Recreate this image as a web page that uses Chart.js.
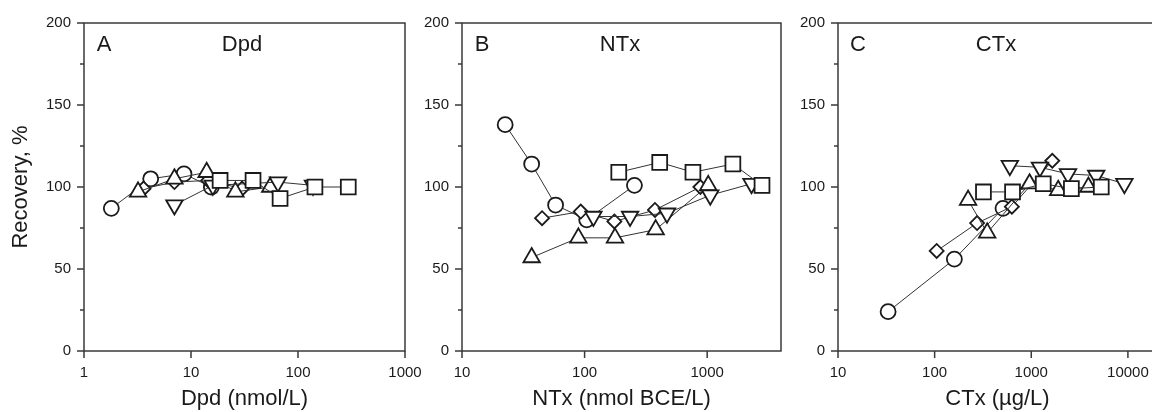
<!DOCTYPE html>
<html><head><meta charset="utf-8">
<script src="https://cdn.jsdelivr.net/npm/chart.js@4"></script>
<style>
html,body{margin:0;padding:0;width:1152px;height:412px;overflow:hidden;background:#fff;}
canvas{position:absolute;top:0;}
</style></head><body>
<canvas id="cA" width="445" height="412" style="left:0px"></canvas>
<canvas id="cB" width="411" height="412" style="left:410px"></canvas>
<canvas id="cC" width="411" height="412" style="left:786px"></canvas>
<script>
// ---------- Data ----------
// Panel A: Dpd (nmol/L)
const dpdCircleX = [1.8, 4.2, 8.6, 15.5];
const dpdCircleY = [87, 105, 108, 100];
const dpdDiamondX = [3.6, 7, 14.5, 30];
const dpdDiamondY = [99, 103, 104, 99];
const dpdTriX = [3.2, 7, 14, 26, 55];
const dpdTriY = [97, 105, 109, 97, 100];
const dpdDownX = [7, 16, 65, 138];
const dpdDownY = [89, 101, 103, 101];
const dpdSquareX = [18.7, 38, 68, 144, 295];
const dpdSquareY = [104, 104, 93, 100, 100];

// Panel B: NTx (nmol BCE/L)
const ntxCircleX = [22.5, 37, 58, 104, 255];
const ntxCircleY = [138, 114, 89, 80, 101];
const ntxDiamondX = [45, 93, 175, 375, 880];
const ntxDiamondY = [81, 85, 79, 86, 100];
const ntxTriX = [37, 89, 177, 380, 1020];
const ntxTriY = [57, 69, 69, 74, 101];
const ntxDownX = [118, 235, 470, 1060, 2300];
const ntxDownY = [82, 82, 84, 95, 102];
const ntxSquareX = [190, 410, 765, 1620, 2800];
const ntxSquareY = [109, 115, 109, 114, 101];

// Panel C: CTx (µg/L)
const ctxCircleX = [33, 160, 510];
const ctxCircleY = [24, 56, 87];
const ctxDiamondX = [105, 275, 630, 1650];
const ctxDiamondY = [61, 78, 88, 116];
const ctxTriX = [222, 350, 960, 1900, 3900];
const ctxTriY = [92, 72, 102, 98, 100];
const ctxDownX = [600, 1230, 2400, 4700, 9200];
const ctxDownY = [113, 112, 108, 107, 102];
const ctxSquareX = [320, 640, 1330, 2600, 5300];
const ctxSquareY = [97, 97, 102, 99, 100];

// Axis ticks
const yMajorTicks = [0, 50, 100, 150, 200];
const yMinorTicks = [25, 75, 125, 175];
const xTicksA = [1, 10, 100, 1000];
const xTicksB = [10, 100, 1000];
const xTicksC = [10, 100, 1000, 10000];

// Labels
const yTitle = 'Recovery, %';
const panelLetters = ['A', 'B', 'C'];
const panelNames = ['Dpd', 'NTx', 'CTx'];
const xTitles = ['Dpd (nmol/L)', 'NTx (nmol BCE/L)', 'CTx (\u00b5g/L)'];

// ---------- Styling / build ----------
const FONT = '"Liberation Sans", Arial, Helvetica, sans-serif';
const INK = '#1a1a1a';

function pts(xs, ys) { return xs.map((x, i) => ({x: x, y: ys[i]})); }

const markerStyles = {
  square:  {pointStyle: 'rect', radius: 10.5, rotation: 0},
  down:    {pointStyle: 'triangle', radius: 9.5, rotation: 180},
  tri:     {pointStyle: 'triangle', radius: 9.5, rotation: 0},
  diamond: {pointStyle: 'rectRot', radius: 7, rotation: 0},
  circle:  {pointStyle: 'circle', radius: 7.5, rotation: 0}
};

function ds(kind, xs, ys) {
  const m = markerStyles[kind];
  return {
    data: pts(xs, ys),
    showLine: true,
    borderColor: '#333',
    borderWidth: 1,
    pointStyle: m.pointStyle,
    pointRadius: m.radius,
    pointRotation: m.rotation,
    pointBorderColor: INK,
    pointBorderWidth: 1.8,
    pointBackgroundColor: '#fff',
    pointHoverRadius: m.radius,
    clip: false
  };
}

const framePlugin = {
  id: 'frame',
  beforeDatasetsDraw(chart, args, opts) {
    const {ctx, chartArea: a, scales} = chart;
    const x = scales.x, y = scales.y;
    ctx.save();
    ctx.strokeStyle = '#3a3a3a';
    ctx.lineWidth = 1.5;
    ctx.strokeRect(a.left, a.top, a.right - a.left, a.bottom - a.top);
    ctx.beginPath();
    yMajorTicks.forEach(v => { const p = y.getPixelForValue(v); ctx.moveTo(a.left - 7, p); ctx.lineTo(a.left, p); });
    yMinorTicks.forEach(v => { const p = y.getPixelForValue(v); ctx.moveTo(a.left - 4, p); ctx.lineTo(a.left, p); });
    x.ticks.forEach(t => { const p = x.getPixelForValue(t.value); ctx.moveTo(p, a.bottom); ctx.lineTo(p, a.bottom + 7); });
    ctx.stroke();
    ctx.fillStyle = INK;
    ctx.font = '22px ' + FONT;
    ctx.textBaseline = 'middle';
    ctx.textAlign = 'center';
    ctx.fillText(opts.letter, a.left + 20, a.top + 22);
    ctx.fillText(opts.name, a.left + 158, a.top + 22);
    ctx.restore();
  }
};

function makeChart(id, idx, datasets, xMin, xMax, xTicks, yAxisWidth, showYTitle) {
  return new Chart(document.getElementById(id), {
    type: 'scatter',
    data: {datasets: datasets},
    plugins: [framePlugin],
    options: {
      responsive: false,
      devicePixelRatio: 1,
      animation: false,
      events: [],
      layout: {padding: {top: 23, right: 40, bottom: 0, left: 0}},
      plugins: {
        legend: {display: false},
        tooltip: {enabled: false},
        frame: {letter: panelLetters[idx], name: panelNames[idx]}
      },
      scales: {
        x: {
          type: 'logarithmic',
          min: xMin, max: xMax,
          afterBuildTicks: (s) => { s.ticks = xTicks.map(v => ({value: v, major: true})); },
          afterFit: (s) => { s.height = 61; },
          grid: {display: false, drawTicks: false},
          border: {display: false},
          ticks: {
            color: INK, padding: 13, maxRotation: 0, autoSkip: false,
            font: {family: FONT, size: 15},
            callback: (v) => String(v)
          },
          title: {
            display: true, text: xTitles[idx], color: INK,
            font: {family: FONT, size: 22},
            padding: {top: 0, bottom: 0}
          }
        },
        y: {
          type: 'linear',
          min: 0, max: 200,
          afterBuildTicks: (s) => { s.ticks = yMajorTicks.map(v => ({value: v})); },
          afterFit: (s) => { s.width = yAxisWidth; },
          grid: {display: false, drawTicks: false},
          border: {display: false},
          ticks: {
            color: INK, padding: 13,
            font: {family: FONT, size: 15},
            callback: (v) => String(v)
          },
          title: {
            display: showYTitle, text: yTitle, color: INK,
            font: {family: FONT, size: 22},
            padding: {top: 8, bottom: 0}
          }
        }
      }
    }
  });
}

makeChart('cA', 0, [
  ds('square', dpdSquareX, dpdSquareY),
  ds('down', dpdDownX, dpdDownY),
  ds('tri', dpdTriX, dpdTriY),
  ds('diamond', dpdDiamondX, dpdDiamondY),
  ds('circle', dpdCircleX, dpdCircleY)
], 1, 1000, xTicksA, 84, true);

makeChart('cB', 1, [
  ds('square', ntxSquareX, ntxSquareY),
  ds('down', ntxDownX, ntxDownY),
  ds('tri', ntxTriX, ntxTriY),
  ds('diamond', ntxDiamondX, ntxDiamondY),
  ds('circle', ntxCircleX, ntxCircleY)
], 10, 4000, xTicksB, 52, false);

makeChart('cC', 2, [
  ds('square', ctxSquareX, ctxSquareY),
  ds('down', ctxDownX, ctxDownY),
  ds('tri', ctxTriX, ctxTriY),
  ds('diamond', ctxDiamondX, ctxDiamondY),
  ds('circle', ctxCircleX, ctxCircleY)
], 10, 20000, xTicksC, 52, false);
</script>
</body></html>
